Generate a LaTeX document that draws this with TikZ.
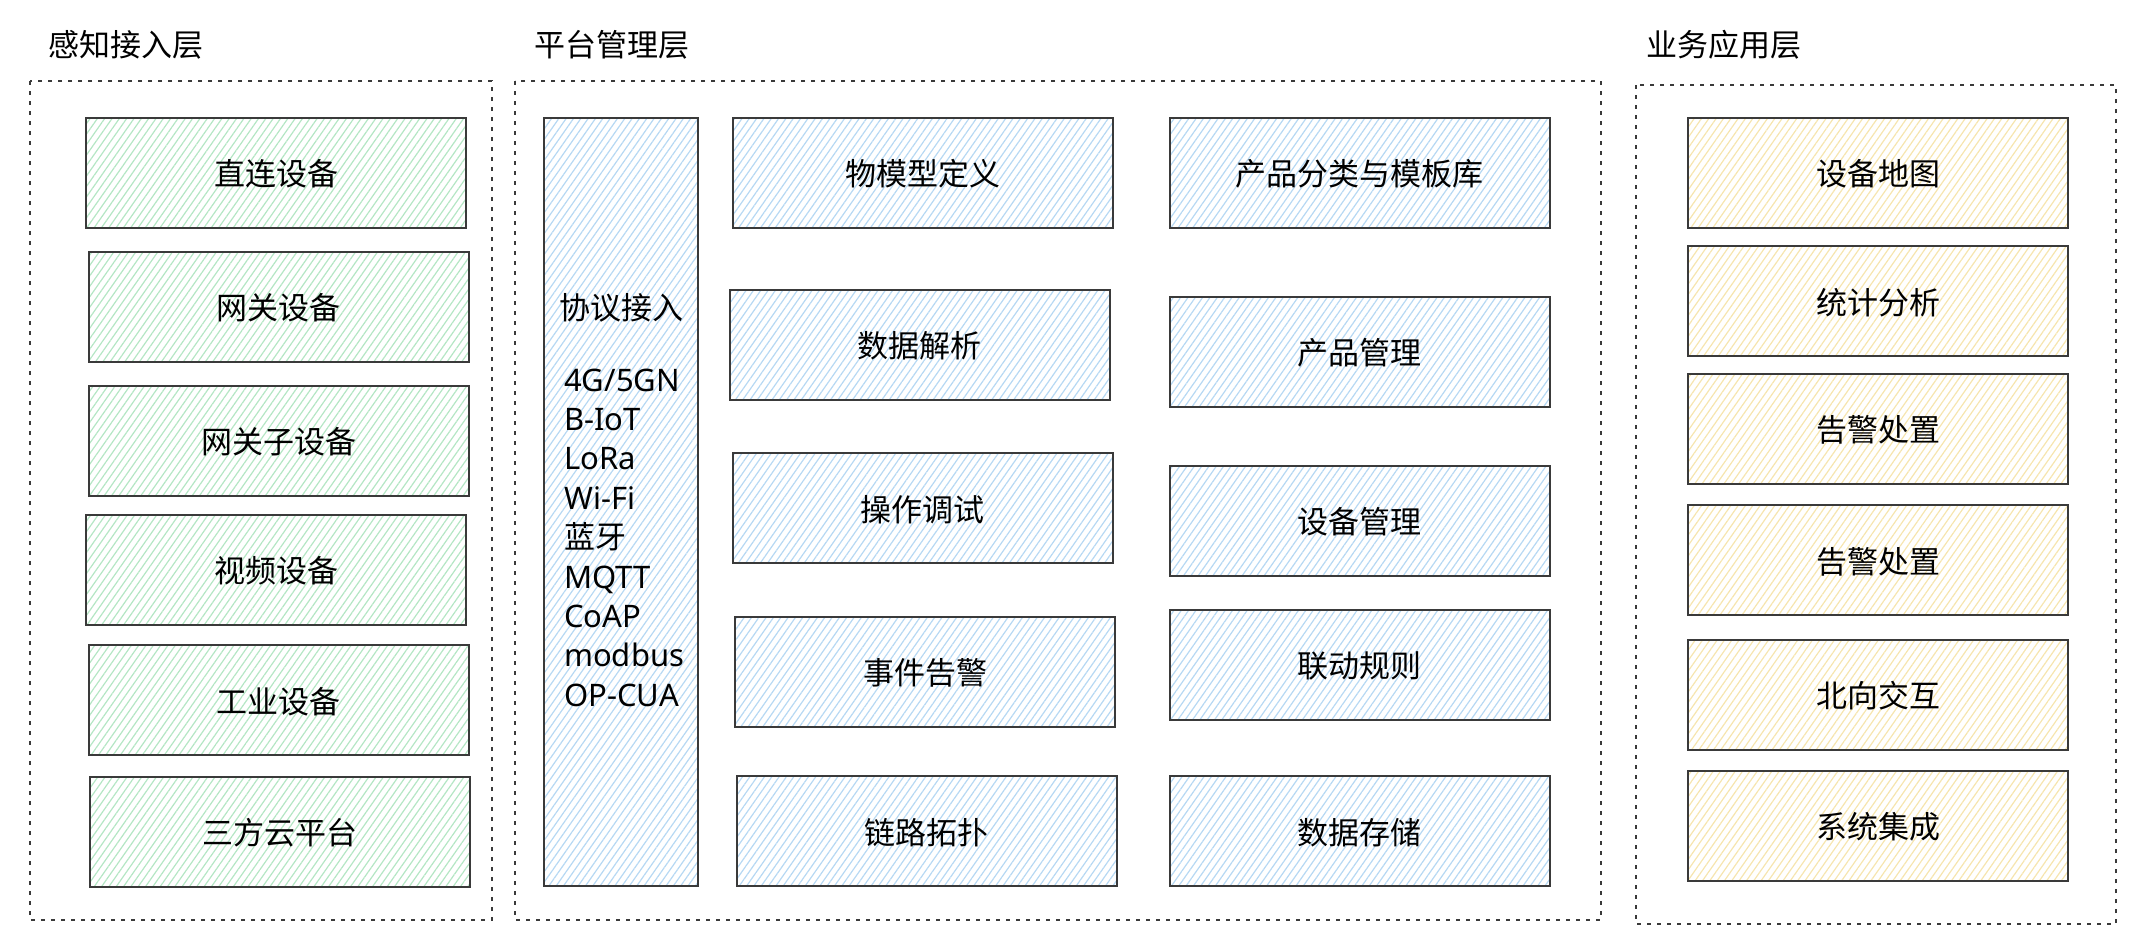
\documentclass[tikz,border=0pt]{standalone}
\usepackage{fontspec}
\setmainfont{Noto Sans}
\newfontfamily\cjk{Noto Sans CJK SC}
\usetikzlibrary{patterns.meta}

\definecolor{edge}{HTML}{3A3A3A}
\definecolor{senseline}{HTML}{B4E6C4}
\definecolor{platline}{HTML}{B6D8F3}
\definecolor{bizline}{HTML}{F6E5AE}

\tikzset{
  layer/.style={draw=edge, line width=2pt, dash pattern=on 4pt off 6pt},
  cell/.style={draw=edge, line width=2pt, minimum width=380, minimum height=110, inner sep=0pt, text depth=0pt},
  sense/.style={cell, pattern={Lines[angle=55, distance=6pt, line width=1.2pt]}, pattern color=senseline},
  plat/.style={cell, pattern={Lines[angle=55, distance=6pt, line width=1.2pt]}, pattern color=platline},
  biz/.style={cell, pattern={Lines[angle=55, distance=6pt, line width=1.2pt]}, pattern color=bizline},
  title/.style={anchor=west, inner sep=0pt}
}

\begin{document}
\begin{tikzpicture}[x=1pt, y=-1pt, every node/.style={font=\fontsize{31}{37}\selectfont\cjk}]
\useasboundingbox (0,0) rectangle (2147,948);

% layer frames
\draw[layer] (30,81) rectangle (492,920);
\draw[layer] (515,81) rectangle (1601,920);
\draw[layer] (1636,85) rectangle (2116,924);

\node[title] (senseT) at (48,45) {感知接入层};
\node[title] (platT) at (534,45) {平台管理层};
\node[title] (bizT) at (1646,45) {业务应用层};

% sensing layer
\node[sense] (s1) at (276,172.5) {直连设备};
\node[sense] (s2) at (278.5,306.5) {网关设备};
\node[sense] (s3) at (278.5,440.5) {网关子设备};
\node[sense] (s4) at (276,569.5) {视频设备};
\node[sense] (s5) at (278.5,700) {工业设备};
\node[sense] (s6) at (280,831.5) {三方云平台};

% platform layer
\node[plat, minimum width=154, minimum height=768] (proto) at (621,502) {};
\node (protoT) at (621,308) {协议接入};
\foreach \t [count=\i from 0] in {4G/5GN, B-IoT, LoRa, Wi-Fi, {\cjk 蓝牙}, MQTT, CoAP, modbus, OP-CUA}
  \node[anchor=base west, inner sep=0pt, font=\fontsize{31}{37}\selectfont] (p\i) at (564,391+39.4*\i) {\t};

\node[plat] (m1) at (922.5,172.5) {物模型定义};
\node[plat] (m2) at (919.5,344.5) {数据解析};
\node[plat] (m3) at (922.5,508) {操作调试};
\node[plat] (m4) at (925,671.5) {事件告警};
\node[plat] (m5) at (926.5,831) {链路拓扑};

\node[plat] (n1) at (1359.5,172.5) {产品分类与模板库};
\node[plat] (n2) at (1359.5,351.5) {产品管理};
\node[plat] (n3) at (1359.5,520.5) {设备管理};
\node[plat] (n4) at (1359.5,664.5) {联动规则};
\node[plat] (n5) at (1359.5,831) {数据存储};

% business layer
\node[biz] (b1) at (1878,172.5) {设备地图};
\node[biz] (b2) at (1878,301) {统计分析};
\node[biz] (b3) at (1878,428.5) {告警处置};
\node[biz] (b4) at (1878,560) {告警处置};
\node[biz] (b5) at (1878,694.5) {北向交互};
\node[biz] (b6) at (1878,825.5) {系统集成};

\end{tikzpicture}
\end{document}
